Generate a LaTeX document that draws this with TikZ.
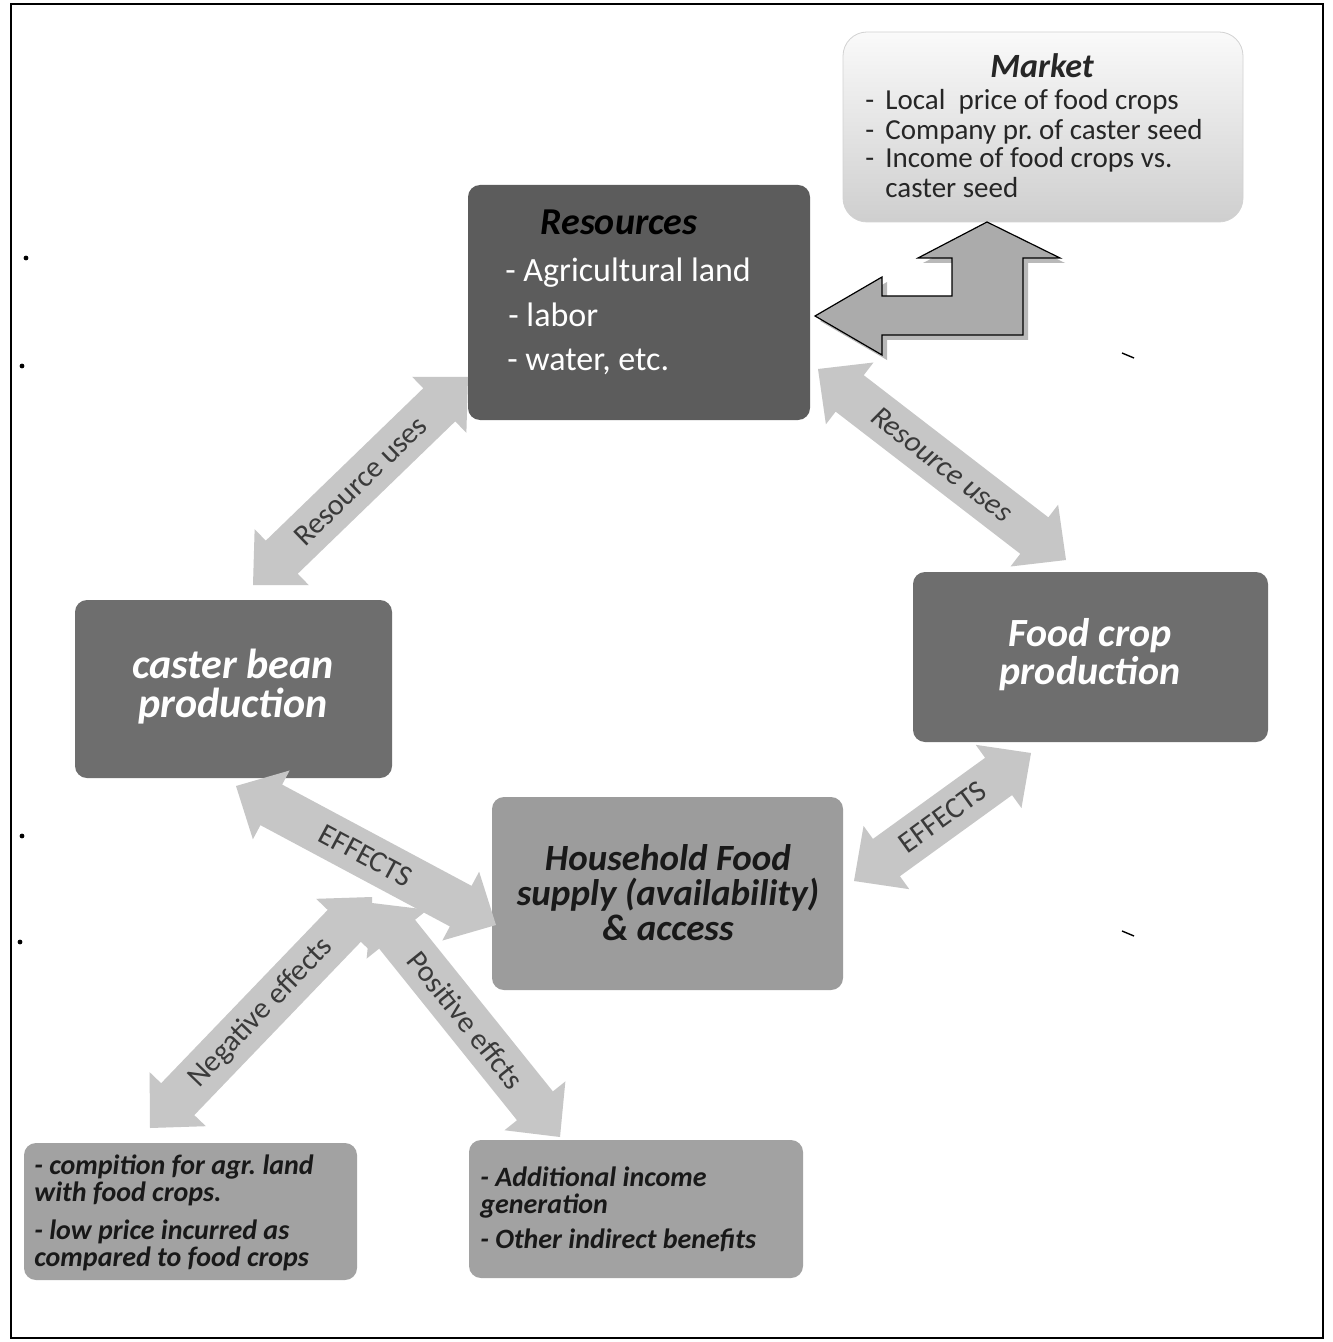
\documentclass[tikz,border=0pt]{standalone}
\usepackage{fontspec}
\setmainfont{Carlito}
\usetikzlibrary{calc}
\frenchspacing
\definecolor{resfill}{HTML}{5C5C5C}
\definecolor{prodfill}{HTML}{6E6E6E}
\definecolor{hhfill}{HTML}{9C9C9C}
\definecolor{effbox}{HTML}{A2A2A2}
\definecolor{arrfill}{HTML}{C6C6C6}
\definecolor{lbl}{HTML}{3A3A3A}
\definecolor{bigarr}{HTML}{ABABAB}
\newcommand\fs[2]{\fontsize{#1}{#2}\selectfont}
\def\hl{20pt}
\def\hw{19.5pt}
\def\sw{11.5pt}
\newcommand\dblarrow[2]{%
  \fill[arrfill] let \p1=(#1), \p2=(#2), \n1={atan2(\y2-\y1,\x2-\x1)} in
   (\p1) -- ($(\p1)+(\n1:\hl)+(\n1+90:\hw)$) -- ($(\p1)+(\n1:\hl)+(\n1+90:\sw)$)
   -- ($(\p2)+(\n1:-\hl)+(\n1+90:\sw)$) -- ($(\p2)+(\n1:-\hl)+(\n1+90:\hw)$) -- (\p2)
   -- ($(\p2)+(\n1:-\hl)+(\n1-90:\hw)$) -- ($(\p2)+(\n1:-\hl)+(\n1-90:\sw)$)
   -- ($(\p1)+(\n1:\hl)+(\n1-90:\sw)$) -- ($(\p1)+(\n1:\hl)+(\n1-90:\hw)$) -- cycle;
}
\tikzset{
  box/.style={rounded corners=6pt, draw=none, inner sep=0pt},
  txt/.style={inner sep=0pt, anchor=base west},
  ctxt/.style={inner sep=0pt, anchor=base},
  arrlabel/.style={sloped, midway, inner sep=0pt, text=lbl, font=\fs{15}{16}},
  mtxt/.style={txt, font=\fs{14.5}{16}, text=black!85},
  etxt/.style={txt, font=\fs{14}{16}\bfseries\itshape, text=black!90},
}
\begin{document}
\begin{tikzpicture}[x=0.5pt,y=-0.5pt]
\useasboundingbox (0,0) rectangle (1332,1342);
\fill[white] (0,0) rectangle (1332,1342);
\draw[line width=0.8pt] (11,4) rectangle (1323,1338);
% stray marks
\fill (26,258) circle (1.2pt);
\fill (22,366) circle (1.2pt);
\fill (22,836) circle (1.2pt);
\fill (20,942) circle (1.2pt);
\draw[line width=0.7pt] (1122,353) -- (1134,358);
\draw[line width=0.7pt] (1122,931) -- (1134,936);

% boxes
\node[box, rounded corners=12pt, top color=gray!4, bottom color=gray!38, draw=gray!35, minimum width=200pt, minimum height=95pt] (mkt) at (1043,127) {};
\node[box, fill=resfill, minimum width=171pt, minimum height=117.5pt] (res) at (639,302.5) {};
\node[box, fill=prodfill, minimum width=158.5pt, minimum height=89pt] (cast) at (233.5,689) {};
\node[box, fill=prodfill, minimum width=177.5pt, minimum height=85pt] (food) at (1090.5,657) {};
\node[box, fill=hhfill, minimum width=175.5pt, minimum height=96.5pt] (hh) at (667.5,893.5) {};
\node[box, fill=effbox, minimum width=166.5pt, minimum height=68.5pt] (neg) at (190.5,1211.5) {};
\node[box, fill=effbox, minimum width=167pt, minimum height=69pt] (pos) at (636,1209) {};

% market text
\node[ctxt, font=\fs{17}{20}\bfseries\itshape, text=black!85] (mktt) at (1042,78) {Market};
\node[mtxt] (m1d) at (865,110) {-};
\node[mtxt] (m1) at (885,110) {Local\ \ price of food crops};
\node[mtxt] (m2d) at (865,140) {-};
\node[mtxt] (m2) at (885,140) {Company pr. of caster seed};
\node[mtxt] (m3d) at (865,168) {-};
\node[mtxt] (m3) at (885,168) {Income of food crops vs.};
\node[mtxt] (m4) at (885,198) {caster seed};

% resources text
\node[ctxt, font=\fs{19}{22}\bfseries\itshape, text=black] (rest) at (619,235) {Resources};
\node[txt, font=\fs{17}{20}, text=white] (r1) at (505,282) {- Agricultural land};
\node[txt, font=\fs{17}{20}, text=white] (r2) at (508,327) {- labor};
\node[txt, font=\fs{17}{20}, text=white] (r3) at (507,370) {- water, etc.};

% production texts
\node[ctxt, font=\fs{21}{24}\bfseries\itshape, text=white] (c1) at (233,678) {caster bean};
\node[ctxt, font=\fs{21}{24}\bfseries\itshape, text=white] (c2) at (233,717) {production};
\node[ctxt, font=\fs{20}{24}\bfseries\itshape, text=white] (f1) at (1090,646) {Food crop};
\node[ctxt, font=\fs{20}{24}\bfseries\itshape, text=white] (f2) at (1090,684) {production};

% household
\node[ctxt, font=\fs{18.5}{22}\bfseries\itshape, text=black!90] (h1) at (668,870) {Household Food};
\node[ctxt, font=\fs{18.5}{22}\bfseries\itshape, text=black!90] (h2) at (668,905) {supply (availability)};
\node[ctxt, font=\fs{18.5}{22}\bfseries\itshape, text=black!90] (h3) at (668,940) {\& access};

% effect boxes
\node[etxt] (n1) at (34,1174) {- compition for agr. land};
\node[etxt] (n2) at (34,1201) {with food crops.};
\node[etxt] (n3) at (34,1239) {- low price incurred as};
\node[etxt] (n4) at (34,1266) {compared to food crops};
\node[etxt] (p1) at (480,1186) {- Additional income};
\node[etxt] (p2) at (480,1213) {generation};
\node[etxt] (p3) at (480,1248) {- Other indirect benefits};

% arrow end coordinates
\coordinate (a1s) at (253,585); \coordinate (a1e) at (468,377);
\coordinate (a2s) at (818,369); \coordinate (a2e) at (1066,560);
\coordinate (a3s) at (236,786); \coordinate (a3e) at (496,925);
\coordinate (a4s) at (854,881); \coordinate (a4e) at (1031,753);
\coordinate (a5s) at (150,1128); \coordinate (a5e) at (372,897);
\coordinate (a6s) at (372,903); \coordinate (a6e) at (560,1137);

\dblarrow{a1s}{a1e}
\dblarrow{a2s}{a2e}
\dblarrow{a3s}{a3e}
\dblarrow{a4s}{a4e}
\dblarrow{a5s}{a5e}
\dblarrow{a6s}{a6e}

\path (a1s) -- (a1e) node[arrlabel] (l1) {Resource uses};
\path (a2s) -- (a2e) node[arrlabel, font=\fs{15}{16}\itshape] (l2) {Resource uses};
\path (a3s) -- (a3e) node[arrlabel] (l3) {EFFECTS};
\path (a4s) -- (a4e) node[arrlabel] (l4) {EFFECTS};
\path (a5s) -- (a5e) node[arrlabel] (l5) {Negative effects};
\path (a6s) -- (a6e) node[arrlabel] (l6) {Positive effcts};

% market <-> resources bent arrow
\fill[gray!55] ([shift={(5,5)}]815,316) -- ++(67,-39) -- ++(0,19) -- ++(70,0) -- ++(0,-38) -- ++(-34,0) -- ++(69,-36) -- ++(73,36) -- ++(-37,0) -- ++(0,77) -- ++(-141,0) -- ++(0,20) -- cycle;
\draw[fill=bigarr, line width=0.6pt, line join=miter] (815,316) -- (882,277) -- (882,296) -- (952,296) -- (952,258) -- (918,258) -- (987,222) -- (1060,258) -- (1023,258) -- (1023,335) -- (882,335) -- (882,355) -- cycle;
\end{tikzpicture}
\end{document}
